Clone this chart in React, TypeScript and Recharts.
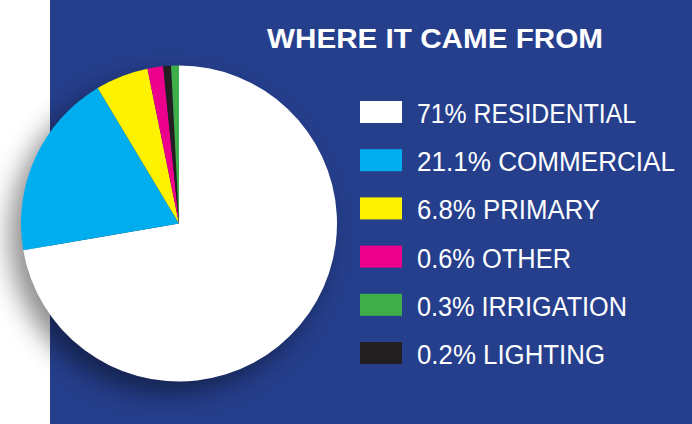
import React from 'react';
import { PieChart, Pie, Cell, Legend } from 'recharts';

// slice sizes as drawn in the graphic (clockwise from 12 o'clock)
const categories = ['Residential', 'Commercial', 'Primary', 'Other', 'Lighting', 'Irrigation'];
const shares = [72.3, 19.1, 5.4, 1.6, 0.8, 0.8];
const sliceColors = ['#ffffff', '#00aeef', '#fff200', '#ec008c', '#231f20', '#3dae49'];

// legend rows, as printed
const legendLabels = [
  '71% RESIDENTIAL',
  '21.1% COMMERCIAL',
  '6.8% PRIMARY',
  '0.6% OTHER',
  '0.3% IRRIGATION',
  '0.2% LIGHTING',
];
const legendColors = ['#ffffff', '#00aeef', '#fff200', '#ec008c', '#3dae49', '#231f20'];
const legendWidths = [219, 258, 183, 154, 210, 188];

const title = 'WHERE IT CAME FROM';

const BG = '#263f8d';

const data = categories.map((name, i) => ({ name, value: shares[i] }));

const LegendBox = () => (
  <svg width={342} height={290} style={{ display: 'block', overflow: 'visible' }}>
    {legendLabels.map((label, i) => {
      const top = 11 + i * 48.2;
      return (
        <g key={label}>
          <rect x={10} y={top} width={42} height={22} fill={legendColors[i]} />
          <text
            x={67}
            y={top + 22}
            fill="#ffffff"
            fontFamily="'Liberation Sans', Arial, sans-serif"
            fontSize={27}
            textLength={legendWidths[i]}
            lengthAdjust="spacingAndGlyphs"
          >
            {label}
          </text>
        </g>
      );
    })}
  </svg>
);

export default function App() {
  return (
    <div style={{ position: 'fixed', left: 0, top: 0, width: 692, height: 424, background: '#fff', overflow: 'hidden' }}>
      <style>{`g.recharts-pie { filter: drop-shadow(-11px 12px 13px rgba(0,0,0,0.45)); }`}</style>
      <div style={{ position: 'absolute', left: 50, top: 0, width: 642, height: 424, background: BG }} />
      <div style={{ position: 'absolute', left: 0, top: 0 }}>
        <PieChart width={692} height={424} margin={{ top: 0, right: 0, bottom: 0, left: 0 }}>
          <text
            x={267}
            y={48}
            fill="#ffffff"
            fontFamily="'Liberation Sans', Arial, sans-serif"
            fontWeight="bold"
            fontSize={27}
            textLength={336}
            lengthAdjust="spacingAndGlyphs"
          >
            {title}
          </text>
          <Pie
            data={data}
            dataKey="value"
            nameKey="name"
            cx={179}
            cy={223.5}
            outerRadius={158}
            innerRadius={0}
            startAngle={90}
            endAngle={-270}
            stroke="none"
            isAnimationActive={false}
          >
            {data.map((d, i) => (
              <Cell key={d.name} fill={sliceColors[i]} />
            ))}
          </Pie>
          <Legend
            content={() => <LegendBox />}
            wrapperStyle={{ position: 'absolute', left: 350, top: 90, width: 342, height: 290 }}
          />
        </PieChart>
      </div>
    </div>
  );
}
